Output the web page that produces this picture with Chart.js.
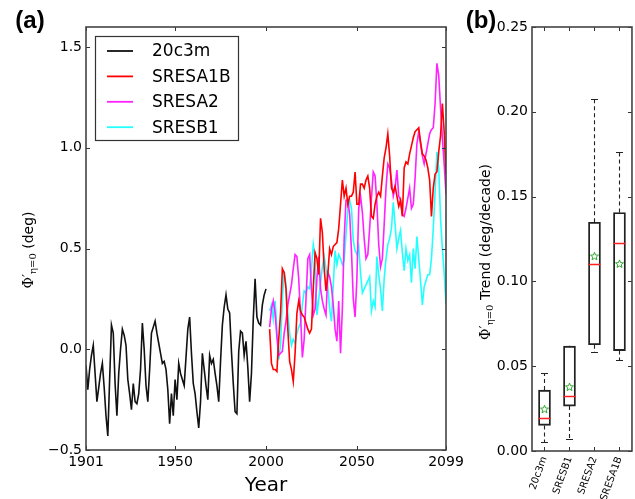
<!DOCTYPE html>
<html>
<head>
<meta charset="utf-8">
<script src="https://cdn.jsdelivr.net/npm/chart.js@4.4.1/dist/chart.umd.min.js"></script>
<style>
  html, body { margin: 0; padding: 0; background: #fff; }
  body { width: 635px; height: 499px; position: relative; overflow: hidden; }
  #chartA { position: absolute; left: 0; top: 0; }
  #chartB { position: absolute; left: 455px; top: 0; }
</style>
</head>
<body>
<canvas id="chartA" width="470" height="499"></canvas>
<canvas id="chartB" width="180" height="499"></canvas>
<script>
var histStart = 1901;
var scenStart = 2002;

var hist20c3m = [
  -0.08, -0.20, -0.10, -0.03, 0.02, -0.12, -0.26, -0.19, -0.12, -0.07,
  -0.19, -0.33, -0.43, -0.15, 0.12, 0.08, -0.17, -0.33, -0.12, 0.00,
  0.10, 0.07, 0.02, -0.15, -0.22, -0.30, -0.17, -0.26, -0.27, -0.22,
  -0.10, 0.13, 0.00, -0.18, -0.26, -0.10, 0.08, 0.11, 0.14, 0.08,
  0.03, -0.02, -0.07, -0.06, -0.10, -0.20, -0.37, -0.22, -0.33, -0.15,
  -0.25, -0.07, -0.12, -0.15, -0.18, -0.04, 0.10, 0.16, -0.02, -0.17,
  -0.22, -0.31, -0.39, -0.26, -0.02, -0.10, -0.18, -0.25, -0.03, -0.07,
  -0.05, -0.12, -0.18, -0.26, -0.06, 0.12, 0.21, 0.27, 0.20, 0.18,
  -0.01, -0.17, -0.31, -0.32, -0.01, 0.09, 0.08, -0.03, 0.04, -0.09,
  -0.26, -0.12, 0.15, 0.35, 0.16, 0.13, 0.12, 0.22, 0.27, 0.30
];

var sresA1B = [
  0.10, -0.07, -0.10, -0.10, -0.11, 0.05, 0.18, 0.40, 0.38, 0.30,
  0.10, -0.06, -0.10, -0.16, -0.02, 0.18, 0.24, 0.19, 0.17, 0.16,
  0.13, 0.10, 0.08, 0.10, 0.30, 0.48, 0.45, 0.37, 0.65, 0.58,
  0.40, 0.29, 0.37, 0.50, 0.47, 0.51, 0.52, 0.53, 0.60, 0.72,
  0.84, 0.76, 0.80, 0.72, 0.76, 0.76, 0.78, 0.88, 0.72, 0.72,
  0.82, 0.82, 0.80, 0.84, 0.86, 0.80, 0.66, 0.65, 0.72, 0.76,
  0.78, 0.76, 0.86, 0.95, 1.00, 1.07, 0.96, 0.80, 0.78, 0.81,
  0.76, 0.71, 0.74, 0.66, 0.90, 0.93, 0.92, 0.97, 1.01, 1.05,
  1.08, 1.09, 1.10, 1.03, 0.97, 0.96, 0.94, 0.90, 0.84, 0.66,
  0.80, 0.87, 0.88, 0.98, 1.06, 1.22, 1.08, 0.87
];

var sresA2 = [
  0.11, 0.20, 0.24, 0.18, 0.06, -0.03, -0.02, -0.01, 0.08, 0.14,
  0.22, 0.27, 0.32, 0.40, 0.47, 0.46, 0.35, 0.17, -0.04, 0.05,
  0.25, 0.45, 0.47, 0.30, 0.17, 0.20, 0.35, 0.46, 0.30, 0.24,
  0.20, 0.17, 0.38, 0.36, 0.31, 0.22, 0.10, 0.04, 0.24, -0.02,
  0.20, 0.55, 0.74, 0.74, 0.67, 0.49, 0.25, 0.16, 0.35, 0.70,
  0.76, 0.68, 0.55, 0.45, 0.47, 0.60, 0.75, 0.88, 0.86, 0.72,
  0.52, 0.41, 0.45, 0.62, 0.80, 0.92, 0.90, 0.84, 0.76, 0.80,
  0.89, 0.76, 0.74, 0.67, 0.66, 0.70, 0.75, 0.80, 0.70, 0.72,
  0.85, 1.02, 1.08, 1.02, 0.96, 0.92, 0.97, 1.02, 1.07, 1.09,
  1.10, 1.22, 1.42, 1.36, 1.20, 1.05, 0.92, 0.77
];

var sresB1 = [
  0.19, 0.22, 0.15, 0.24, 0.10, -0.05, 0.02, 0.25, 0.39, 0.32,
  0.18, 0.08, 0.02, 0.05, 0.03, 0.08, 0.11, 0.13, 0.22, 0.29,
  0.28, 0.31, 0.30, 0.40, 0.52, 0.45, 0.17, 0.25, 0.33, 0.41,
  0.46, 0.40, 0.31, 0.20, 0.14, 0.32, 0.49, 0.42, 0.47, 0.45,
  0.42, 0.44, 0.57, 0.69, 0.74, 0.70, 0.54, 0.49, 0.47, 0.51,
  0.38, 0.28, 0.30, 0.32, 0.34, 0.36, 0.19, 0.24, 0.21, 0.46,
  0.37, 0.30, 0.19, 0.35, 0.45, 0.52, 0.55, 0.60, 0.73, 0.62,
  0.50, 0.55, 0.59, 0.48, 0.39, 0.50, 0.44, 0.47, 0.33, 0.50,
  0.40, 0.56, 0.45, 0.34, 0.22, 0.31, 0.34, 0.37, 0.37, 0.45,
  0.60, 0.78, 0.98, 0.90, 0.65, 0.50, 0.38, 0.22
];

var yearTicks = [1901, 1950, 2000, 2050, 2099];
var phiTicks = [-0.5, 0, 0.5, 1.0, 1.5];

// panel (b) box plot stats
var boxLabels = ["20c3m", "SRESB1", "SRESA2", "SRESA1B"];
var whiskLow = [0.0053, 0.0069, 0.0584, 0.0535];
var boxLow = [0.0151, 0.0265, 0.0627, 0.0592];
var medians = [0.0192, 0.0327, 0.1104, 0.1225];
var boxHigh = [0.0359, 0.0618, 0.1349, 0.1406];
var whiskHigh = [0.0460, 0.0620, 0.2073, 0.1763];
var means = [0.0245, 0.0376, 0.1147, 0.1102];
var trendTicks = [0, 0.05, 0.10, 0.15, 0.20, 0.25];

(function () {
  var FONT = "'DejaVu Sans', 'Liberation Sans', sans-serif";
  Chart.defaults.font.family = FONT;
  Chart.defaults.font.size = 14;
  Chart.defaults.color = "#000";

  function toPoints(start, values) {
    return values.map(function (v, i) {
      return { x: start + i, y: v };
    });
  }

  function fixedTicks(list) {
    return function (scale) {
      scale.ticks = list.map(function (v) { return { value: v }; });
    };
  }

  function minusFmt(digits) {
    return function (v) {
      return Number(v).toFixed(digits).replace("-", "\u2212");
    };
  }

  /** matplotlib-ish frame with inward ticks on all four sides */
  var framePlugin = {
    id: "mplFrame",
    afterDatasetsDraw: function (chart) {
      var a = chart.chartArea;
      var ctx = chart.ctx;
      var xs = chart.scales.x;
      var ys = chart.scales.y;
      var len = 4;
      ctx.save();
      ctx.strokeStyle = "#333";
      ctx.lineWidth = 1;
      ctx.beginPath();
      xs.ticks.forEach(function (t, i) {
        var px = Math.round(xs.getPixelForTick(i)) + 0.5;
        ctx.moveTo(px, a.bottom); ctx.lineTo(px, a.bottom - len);
        ctx.moveTo(px, a.top); ctx.lineTo(px, a.top + len);
      });
      ys.ticks.forEach(function (t, i) {
        var py = Math.round(ys.getPixelForTick(i)) + 0.5;
        ctx.moveTo(a.left, py); ctx.lineTo(a.left + len, py);
        ctx.moveTo(a.right, py); ctx.lineTo(a.right - len, py);
      });
      ctx.stroke();
      ctx.strokeStyle = "#444";
      ctx.lineWidth = 1.6;
      ctx.strokeRect(a.left, a.top, a.right - a.left, a.bottom - a.top);
      ctx.restore();
    }
  };

  /** panel letter + rotated y title with a subscript */
  var labelsPlugin = {
    id: "panelLabels",
    afterDraw: function (chart, args, opts) {
      var ctx = chart.ctx;
      ctx.save();
      ctx.fillStyle = "#000";
      ctx.font = "bold 24px 'Liberation Sans', Arial, sans-serif";
      ctx.textAlign = "center";
      ctx.textBaseline = "middle";
      ctx.fillText(opts.letter, opts.letterX, opts.letterY);

      ctx.translate(opts.titleX, opts.titleY);
      ctx.rotate(-Math.PI / 2);
      ctx.textAlign = "left";
      ctx.textBaseline = "alphabetic";
      var big = "14px 'DejaVu Serif', serif";
      var small = "10px 'DejaVu Serif', serif";
      var rest = "14px " + FONT;
      ctx.font = big;
      var w1 = ctx.measureText("\u03A6\u2032").width;
      ctx.font = small;
      var w2 = ctx.measureText("\u03B7=0").width;
      ctx.font = rest;
      var w3 = ctx.measureText(opts.title).width;
      var x0 = -(w1 + w2 + w3) / 2;
      ctx.font = big;
      ctx.fillText("\u03A6\u2032", x0, 5);
      ctx.font = small;
      ctx.fillText("\u03B7=0", x0 + w1, 8);
      ctx.font = rest;
      ctx.fillText(opts.title, x0 + w1 + w2, 5);
      ctx.restore();
    }
  };

  /** legend box inside the plot, upper left */
  var legendPlugin = {
    id: "boxLegend",
    afterDatasetsDraw: function (chart) {
      var ctx = chart.ctx;
      var left = 95, top = 36, w = 143, h = 104;
      ctx.save();
      ctx.fillStyle = "#fff";
      ctx.fillRect(left, top, w, h);
      ctx.strokeStyle = "#333";
      ctx.lineWidth = 1.2;
      ctx.strokeRect(left + 0.5, top + 0.5, w, h);
      ctx.font = "17px " + FONT;
      ctx.textBaseline = "middle";
      chart.data.datasets.forEach(function (ds, i) {
        var y = top + 15 + i * 25.4;
        ctx.strokeStyle = ds.borderColor;
        ctx.lineWidth = 1.8;
        ctx.beginPath();
        ctx.moveTo(107, y);
        ctx.lineTo(133, y);
        ctx.stroke();
        ctx.fillStyle = "#000";
        ctx.fillText(ds.label, 152, y + 1);
      });
      ctx.restore();
    }
  };

  /** whiskers, medians and means for the box plot */
  var boxPlugin = {
    id: "boxExtras",
    afterDatasetsDraw: function (chart) {
      var ctx = chart.ctx;
      var xs = chart.scales.x;
      var ys = chart.scales.y;
      ctx.save();
      boxLabels.forEach(function (lab, i) {
        var cx = Math.round(xs.getPixelForValue(i)) + 0.5;
        var yWl = ys.getPixelForValue(whiskLow[i]);
        var yBl = ys.getPixelForValue(boxLow[i]);
        var yBh = ys.getPixelForValue(boxHigh[i]);
        var yWh = ys.getPixelForValue(whiskHigh[i]);
        ctx.strokeStyle = "#222";
        ctx.lineWidth = 1.1;
        ctx.setLineDash([4, 3]);
        ctx.beginPath();
        ctx.moveTo(cx, yBh); ctx.lineTo(cx, yWh);
        ctx.moveTo(cx, yBl); ctx.lineTo(cx, yWl);
        ctx.stroke();
        ctx.setLineDash([]);
        ctx.beginPath();
        ctx.moveTo(cx - 3.5, Math.round(yWh) + 0.5); ctx.lineTo(cx + 3.5, Math.round(yWh) + 0.5);
        ctx.moveTo(cx - 3.5, Math.round(yWl) + 0.5); ctx.lineTo(cx + 3.5, Math.round(yWl) + 0.5);
        ctx.stroke();

        var yMed = Math.round(ys.getPixelForValue(medians[i])) + 0.5;
        ctx.strokeStyle = "#ff2020";
        ctx.lineWidth = 1.5;
        ctx.beginPath();
        ctx.moveTo(cx - 6, yMed); ctx.lineTo(cx + 6, yMed);
        ctx.stroke();

        var yMean = ys.getPixelForValue(means[i]);
        ctx.strokeStyle = "#33aa33";
        ctx.lineWidth = 1;
        ctx.beginPath();
        for (var k = 0; k < 10; k++) {
          var r = k % 2 === 0 ? 4.2 : 1.8;
          var ang = -Math.PI / 2 + k * Math.PI / 5;
          var px = cx + r * Math.cos(ang);
          var py = yMean + r * Math.sin(ang);
          if (k === 0) ctx.moveTo(px, py);
          else ctx.lineTo(px, py);
        }
        ctx.closePath();
        ctx.stroke();
      });
      ctx.restore();
    }
  };

  /* panel (a) */
  new Chart(document.getElementById("chartA"), {
    type: "line",
    data: {
      datasets: [
        { label: "20c3m", data: toPoints(histStart, hist20c3m), borderColor: "#111", order: 3 },
        { label: "SRESA1B", data: toPoints(scenStart, sresA1B), borderColor: "#ff0000", order: 0 },
        { label: "SRESA2", data: toPoints(scenStart, sresA2), borderColor: "#ff22ff", order: 1 },
        { label: "SRESB1", data: toPoints(scenStart, sresB1), borderColor: "#22ffff", order: 2 }
      ]
    },
    options: {
      responsive: false,
      animation: false,
      events: [],
      elements: {
        line: { borderWidth: 1.6, tension: 0, fill: false },
        point: { radius: 0 }
      },
      layout: { padding: { top: 27, right: 24, left: 0, bottom: 0 } },
      plugins: {
        legend: { display: false },
        tooltip: { enabled: false },
        panelLabels: {
          letter: "(a)", letterX: 30, letterY: 21,
          title: " (deg)", titleX: 28, titleY: 250
        }
      },
      scales: {
        x: {
          type: "linear",
          min: 1901,
          max: 2099,
          afterBuildTicks: fixedTicks(yearTicks),
          afterFit: function (s) { s.height = 49; },
          grid: { display: false, drawTicks: false },
          border: { display: false },
          ticks: {
            padding: 4,
            autoSkip: false,
            maxRotation: 0,
            callback: function (v) { return String(v); }
          },
          title: {
            display: true,
            text: "Year",
            font: { size: 20 },
            padding: { top: 0, bottom: 1 }
          }
        },
        y: {
          min: -0.5,
          max: 1.6,
          afterBuildTicks: fixedTicks(phiTicks),
          afterFit: function (s) { s.width = 86; },
          grid: { display: false, drawTicks: false },
          border: { display: false },
          ticks: { padding: 4, callback: minusFmt(1) }
        }
      }
    },
    plugins: [framePlugin, legendPlugin, labelsPlugin]
  });

  /* panel (b) */
  new Chart(document.getElementById("chartB"), {
    type: "bar",
    data: {
      labels: boxLabels,
      datasets: [
        {
          data: boxLabels.map(function (l, i) { return [boxLow[i], boxHigh[i]]; }),
          backgroundColor: "rgba(0,0,0,0)",
          borderColor: "#222",
          borderWidth: 1.2,
          borderSkipped: false,
          barThickness: 12
        }
      ]
    },
    options: {
      responsive: false,
      animation: false,
      events: [],
      layout: { padding: { top: 27, right: 2, left: 0, bottom: 0 } },
      plugins: {
        legend: { display: false },
        tooltip: { enabled: false },
        panelLabels: {
          letter: "(b)", letterX: 26, letterY: 21,
          title: " Trend (deg/decade)", titleX: 30, titleY: 252
        }
      },
      scales: {
        x: {
          afterFit: function (s) { s.height = 48; },
          grid: { display: false, drawTicks: false },
          border: { display: false },
          ticks: { padding: 4, minRotation: 70, maxRotation: 70, font: { size: 10 } }
        },
        y: {
          min: 0,
          max: 0.25,
          afterBuildTicks: fixedTicks(trendTicks),
          afterFit: function (s) { s.width = 77; },
          grid: { display: false, drawTicks: false },
          border: { display: false },
          ticks: { padding: 4, callback: minusFmt(2) }
        }
      }
    },
    plugins: [framePlugin, boxPlugin, labelsPlugin]
  });
})();
</script>
</body>
</html>
